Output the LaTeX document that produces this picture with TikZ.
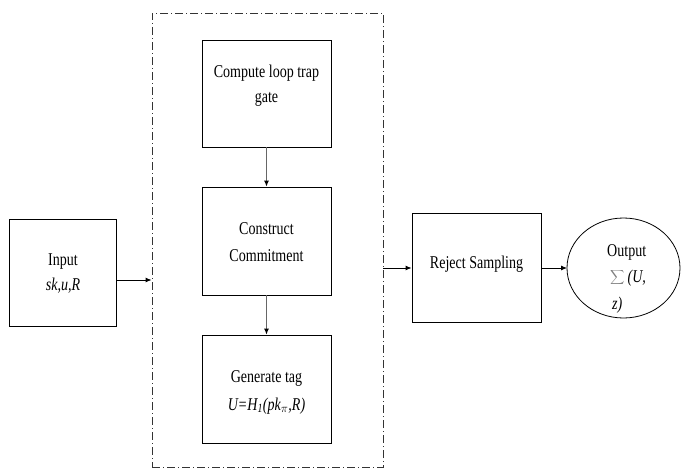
\documentclass[tikz,border=0pt]{standalone}
\usepackage{fontspec}
\setmainfont{Liberation Serif}[FakeStretch=0.78]
\usetikzlibrary{arrows.meta,calc}
\begin{document}
\begin{tikzpicture}[x=1pt,y=-1pt,
  box/.style={draw=black,line width=0.9pt,rectangle,inner sep=0pt},
  lbl/.style={align=center,inner sep=0pt},
  arr/.style={line width=0.9pt,-{Latex[length=6pt,width=5pt]}},
  garr/.style={arr,draw=black!60,-{Latex[length=6pt,width=5pt,fill=black,color=black]}},
  frame/.style={draw=black!80,line width=0.8pt,dash pattern=on 8pt off 3pt on 1pt off 3pt}]
\useasboundingbox (0,0) rectangle (681,471);
% dashed frame
\node[frame,rectangle,minimum width=231pt,minimum height=454pt,inner sep=0pt] (frame) at (267.5,240) {};
% boxes
\node[box,minimum width=129pt,minimum height=107pt] (compute) at (266.5,93.5) {};
\node[lbl,font=\fontsize{18}{25}\selectfont] (computet) at (266.5,86) {Compute loop trap\\gate};
\node[box,minimum width=129pt,minimum height=108pt] (construct) at (266.5,241) {};
\node[lbl,font=\fontsize{18}{27}\selectfont] (constructt) at (266.5,242) {Construct\\Commitment};
\node[box,minimum width=129pt,minimum height=108pt] (gen) at (266.5,389) {};
\node[lbl,font=\fontsize{18}{28}\selectfont] (gent) at (266.5,392) {Generate tag\\\itshape U=H\textsubscript{1}(pk\textsubscript{$\pi$},R)};
\node[box,minimum width=107pt,minimum height=107pt] (input) at (62.5,272.5) {};
\node[lbl,font=\fontsize{18}{25}\selectfont] (inputt) at (63,273) {Input\\\itshape sk,u,R};
\node[box,minimum width=129pt,minimum height=109pt] (reject) at (476.5,267.5) {};
\node[lbl,font=\fontsize{18}{25}\selectfont] (rejectt) at (476.5,264) {Reject Sampling};
\draw[line width=0.8pt] (623.5,268) ellipse [x radius=56.5pt, y radius=50pt];
\coordinate (outW) at (567,268);
\node[font=\fontsize{18}{27}\selectfont,align=left,anchor=north west,inner sep=0pt] (outt) at (607,244)
  {Output\\[-1pt]\hspace*{3pt}{\color{black!50}$\displaystyle\sum$}\,\itshape(U,\\\hspace*{5pt}\itshape z)};
% connectors
\draw[garr] (compute.south) -- (construct.north);
\draw[garr] (construct.south) -- (gen.north);
\coordinate (inA) at ($(input.east)+(0,7.5)$);
\draw[arr] (inA) -- (inA -| frame.west);
\coordinate (rjA) at ($(reject.west)+(0,0.5)$);
\draw[arr] (rjA -| frame.east) -- (rjA);
\draw[arr] (reject.east |- outW) -- (outW);
\end{tikzpicture}
\end{document}
